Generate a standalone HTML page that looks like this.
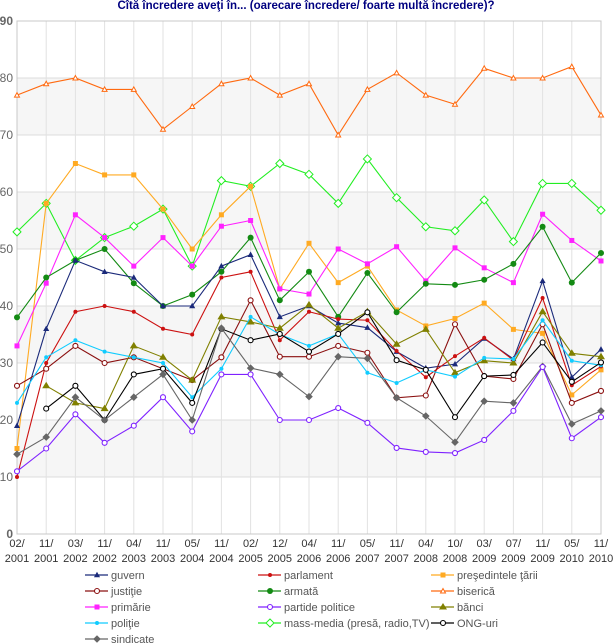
<!DOCTYPE html>
<html><head><meta charset="utf-8"><style>
html,body{margin:0;padding:0;background:#fff;width:613px;height:644px;overflow:hidden}
svg text{font-family:"Liberation Sans",Verdana,sans-serif}
</style></head><body>
<svg id="c" width="613" height="644" xmlns="http://www.w3.org/2000/svg">
<text x="306" y="9" text-anchor="middle" font-size="11.5" font-weight="bold" fill="#000080">Cîtă încredere aveţi în... (oarecare încredere/ foarte multă încredere)?</text>
</svg>
<script>
const s=document.getElementById('c'),NS='http://www.w3.org/2000/svg';
function el(t,a,p){const e=document.createElementNS(NS,t);for(const k in a)e.setAttribute(k,a[k]);(p||s).appendChild(e);return e;}
const L=17,R=601,T=21,B=534,X=i=>L+(R-L)/20*i,Y=v=>B-(B-T)/90*v;
[[70,80],[50,60],[30,40],[10,20]].forEach(b=>el('rect',{x:L,y:Y(b[1]),width:R-L,height:Y(b[0])-Y(b[1]),fill:'#f6f6f6'}));
for(let v=10;v<90;v+=10)el('line',{x1:L,x2:R,y1:Y(v),y2:Y(v),stroke:'#dcdcdc'});
for(let i=1;i<20;i++)el('line',{x1:X(i),x2:X(i),y1:T,y2:B,stroke:'#e2e2e2'});
el('rect',{x:L,y:T,width:R-L,height:B-T,fill:'none',stroke:'#c8c8c8'});
for(let v=0;v<=90;v+=10){const t=el('text',{x:13,y:Y(v)+4,'text-anchor':'end','font-size':12,fill:'#666','font-weight':(v==0||v==90)?'bold':'normal'});t.textContent=v;}
const lab=['02/2001','11/2001','03/2002','11/2002','04/2003','11/2003','05/2004','11/2004','02/2005','12/2005','04/2006','11/2006','05/2007','11/2007','04/2008','10/2008','03/2009','07/2009','11/2009','05/2010','11/2010'];
lab.forEach((l,i)=>{const [a,b]=l.split('/');let t=el('text',{x:X(i),y:547,'text-anchor':'middle','font-size':11,fill:'#333'});t.textContent=a+'/';t=el('text',{x:X(i),y:562,'text-anchor':'middle','font-size':11,fill:'#333'});t.textContent=b;});
const S=[
['biserică','#ff6a10','tri',0,[77,79,80,78,78,71,75,79,80,77,79,70,78,80.9,77,75.4,81.7,80,80,82,73.5]],
['mass-media (presă, radio,TV)','#22ee22','odia',0,[53,58,48,52,54,57,47,62,61,65,63.1,58,65.8,59,53.9,53.2,58.6,51.3,61.5,61.5,56.8]],
['preşedintele ţării','#ffaa22','sq',0,[15,58,65,63,63,57,50,56,61,43,51,44.1,47,39.3,36.5,37.8,40.5,35.9,35.2,24.4,28.8]],
['primărie','#ff22ff','sq',0,[33,44,56,52,47,52,47,54,55,43,42.1,50,47.4,50.4,44.4,50.2,46.7,44.1,56.1,51.5,47.9]],
['armată','#138a13','dot',0,[38,45,48,50,44,40,42,46,52,41,46,38.1,45.8,38.9,43.9,43.7,44.6,47.4,53.9,44.1,49.3]],
['guvern','#1b2a7a','stri',0,[19,36,48,46,45,40,40,47,49,38.1,40,37,36.2,32,29.1,29.8,34.3,30.7,44.4,27.5,32.4]],
['parlament','#cc1111','sdot',0,[10,30,39,40,39,36,35,45,46,34,39,37.7,37.5,32.1,27.5,31.2,34.4,30.5,41.4,26.1,29.4]],
['justiţie','#8b1010','ocir',0,[26,29,33,30,31,29,27,31,41,31.1,31.1,33,31.8,23.9,24.3,36.8,27.7,27.2,36.8,23,25.1]],
['bănci','#808000','tri2',1,[null,26,23,22,33,31,27,38.1,37.2,36.1,40.2,36.1,39,33.3,35.9,28.3,30.4,30,39,31.7,31.1]],
['poliţie','#11ccff','sdot',0,[23,31,34,32,31,30,24,29,38.1,35,33,35.1,28.3,26.5,28.8,27.6,30.9,30.7,37.5,30.4,29.6]],
['ONG-uri','#000','ocir',1,[null,22,26,20,28,29,23,36,34,35.1,32,35.1,38.9,30.5,28.8,20.5,27.7,27.9,33.6,26.7,30.1]],
['sindicate','#666','dia',0,[14,17,24,20,24,28,20,36.1,29.1,28,24.1,31.1,30.8,23.9,20.7,16.1,23.3,23,29.4,19.3,21.6]],
['partide politice','#7f22ff','ocir',0,[11,15,21,16,19,24,18,28,28,20,20,22.1,19.5,15.1,14.4,14.2,16.5,21.6,29.3,16.8,20.5]]];
function mk(t,x,y,c,g){
 if(t=='tri'||t=='stri'){const r=t=='tri'?2.5:2.2;el('polygon',{points:`${x},${y-r} ${x-r},${y+r*0.8} ${x+r},${y+r*0.8}`,fill:t=='tri'?'#fff':c,stroke:c,'stroke-width':1},g);}
 else if(t=='tri2')el('polygon',{points:`${x},${y-4} ${x-4},${y+2.5} ${x+4},${y+2.5}`,fill:c},g);
 else if(t=='sq')el('rect',{x:x-2.5,y:y-2.5,width:5,height:5,fill:c},g);
 else if(t=='dot')el('circle',{cx:x,cy:y,r:3,fill:c},g);
 else if(t=='sdot')el('circle',{cx:x,cy:y,r:2,fill:c},g);
 else if(t=='ocir')el('circle',{cx:x,cy:y,r:2.5,fill:'#fff',stroke:c,'stroke-width':1.1},g);
 else if(t=='odia')el('polygon',{points:`${x},${y-4} ${x+4},${y} ${x},${y+4} ${x-4},${y}`,fill:'#fff',stroke:c,'stroke-width':1},g);
 else if(t=='dia')el('polygon',{points:`${x},${y-3.8} ${x+3.8},${y} ${x},${y+3.8} ${x-3.8},${y}`,fill:c},g);
}
S.forEach(([n,c,m,st,d])=>{let p='';d.forEach((v,i)=>{if(v!=null)p+=(p?'L':'M')+X(i)+','+Y(v);});
 el('path',{d:p,fill:'none',stroke:c,'stroke-width':1.1});d.forEach((v,i)=>{if(v!=null)mk(m,X(i),Y(v),c);});});
const leg=[['guvern',5],['parlament',6],['preşedintele ţării',2],['justiţie',7],['armată',4],['biserică',0],['primărie',3],['partide politice',12],['bănci',8],['poliţie',9],['mass-media (presă, radio,TV)',1],['ONG-uri',10],['sindicate',11]];
const cx=[85,258,431];
leg.forEach(([n,k],j)=>{const c=S[k][1],x=cx[j%3],y=575+Math.floor(j/3)*16;
 el('line',{x1:x,x2:x+23,y1:y,y2:y,stroke:c,'stroke-width':1.3});mk(S[k][2],x+12,y,c);
 const t=el('text',{x:x+26,y:y+4,'font-size':11,fill:'#555'});t.textContent=n;});
</script>
</body></html>
